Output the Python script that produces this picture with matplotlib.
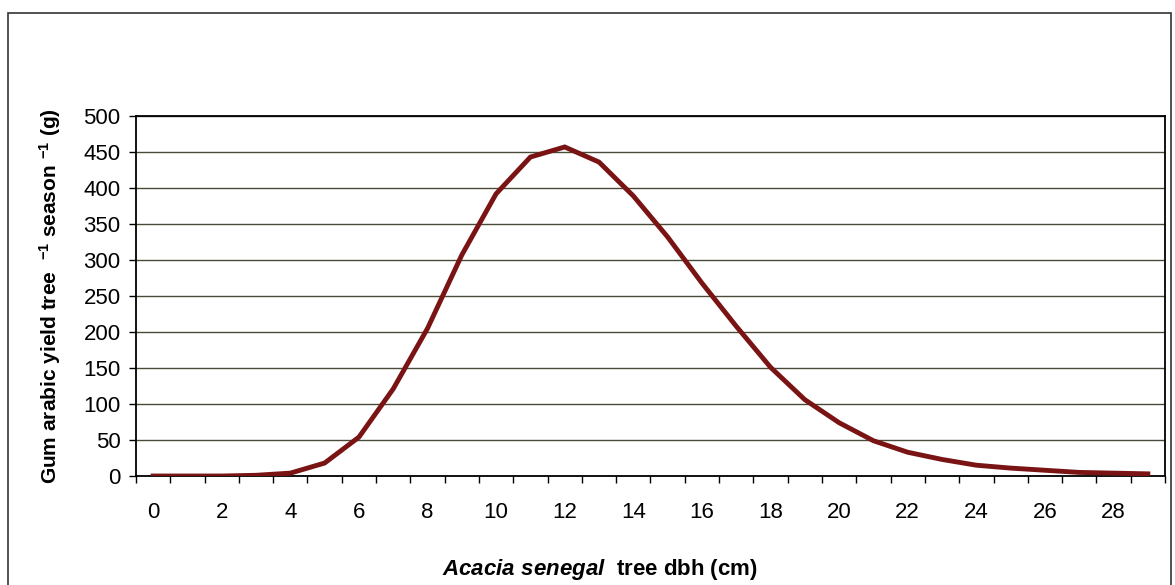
import numpy as np
import matplotlib.pyplot as plt
from matplotlib.patches import Rectangle
from matplotlib.ticker import FixedLocator, MultipleLocator

plt.rcParams['font.family'] = 'Liberation Sans'
plt.rcParams['font.weight'] = 'bold'
plt.rcParams['mathtext.fontset'] = 'custom'
plt.rcParams['mathtext.rm'] = 'Liberation Sans:bold'
plt.rcParams['mathtext.bf'] = 'Liberation Sans:bold'
plt.rcParams['mathtext.it'] = 'Liberation Sans:bold:italic'

# dbh categories (cm) and gum yield per tree per season (g)
dbh = list(range(0, 30))
gum_yield = [0, 0, 0, 1, 4, 18, 54, 121, 205, 307, 392, 443, 457, 436, 389,
             332, 268, 208, 151, 106, 74, 49, 33, 23, 15, 11, 8, 5, 4, 3]
x_ticklabels = [str(v) if v % 2 == 0 else '' for v in dbh]

fig = plt.figure(figsize=(11.75, 5.85), dpi=100)
fig.patches.append(Rectangle((0.007, -0.01), 0.99, 0.988, transform=fig.transFigure,
                             fill=False, edgecolor='#333333', lw=1.2))
ax = fig.add_axes([0.1157, 0.1863, 0.8758, 0.6154])

ax.plot(dbh, gum_yield, color='#7a1414', lw=3.5, solid_joinstyle='miter', zorder=3)

ax.set_xlim(-0.5, 29.5)
ax.set_ylim(0, 500)
ax.yaxis.set_major_locator(MultipleLocator(50))
ax.grid(axis='y', color='#4a4a38', lw=1.0)
ax.set_axisbelow(True)

ax.set_xticks(dbh)
ax.set_xticklabels(x_ticklabels, fontsize=16, fontweight='normal')
ax.tick_params(axis='x', which='major', length=0, pad=19)
ax.xaxis.set_minor_locator(FixedLocator(np.arange(-0.5, 30, 1)))
ax.tick_params(axis='x', which='minor', length=5, width=1, direction='out')
ax.tick_params(axis='y', length=5, width=1, direction='out', labelsize=16, pad=6)
for lab in ax.get_yticklabels():
    lab.set_fontweight('normal')

for s in ax.spines.values():
    s.set_color('black')
    s.set_linewidth(1.3)

ax.set_ylabel(r'Gum arabic yield tree  $^{-1}$ season $^{-1}$ (g)', fontsize=15,
              fontweight='bold')
ax.yaxis.set_label_coords(-0.071, 0.5)
ax.set_xlabel(r'$\mathit{Acacia\ senegal}$  tree dbh (cm)', fontsize=16,
              fontweight='bold')
ax.xaxis.set_label_coords(0.451, -0.226)

fig.savefig('out.png', dpi=100)
